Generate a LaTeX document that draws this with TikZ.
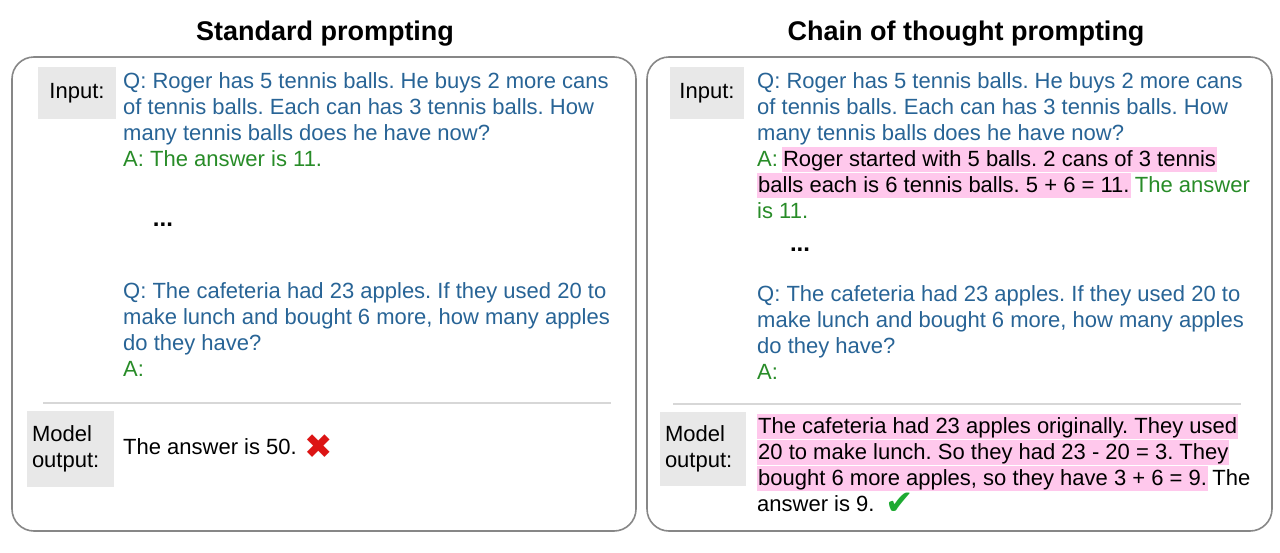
\documentclass[tikz,border=0pt]{standalone}
\usepackage{fontspec}
\setmainfont{Liberation Sans}
\newfontfamily\symfont{DejaVu Sans}
\frenchspacing
\definecolor{qblue}{RGB}{40,100,150}
\definecolor{agreen}{RGB}{40,140,40}
\definecolor{hlpink}{RGB}{255,200,236}
\definecolor{lblgray}{RGB}{232,232,232}
\definecolor{boxgray}{RGB}{135,135,135}
\definecolor{sepgray}{RGB}{215,215,215}
\definecolor{xred}{RGB}{220,20,20}
\definecolor{ckgreen}{RGB}{30,170,50}
\tikzset{
  txt/.style={anchor=base west, inner sep=0pt, font=\fontsize{22}{26}\selectfont},
  qt/.style={txt, text=qblue},
  anst/.style={txt, text=agreen},
  bt/.style={txt, text=black},
  hl/.style={txt, fill=hlpink, text=black, text height=19pt, text depth=6pt, inner xsep=1pt},
  lbl/.style={fill=lblgray, inner sep=0pt, align=left, font=\fontsize{22}{26}\selectfont},
  panel/.style={draw=boxgray, line width=1.6pt, rounded corners=22pt},
  sep/.style={draw=sepgray, line width=1.2pt},
  title/.style={font=\fontsize{27}{30}\selectfont\bfseries, inner sep=0pt},
  dots/.style={font=\fontsize{24}{26}\selectfont\bfseries, inner sep=0pt}
}
\begin{document}
\begin{tikzpicture}[x=1pt,y=-1pt]
\useasboundingbox[fill=white] (0,0) rectangle (1280,552);
% panels
\draw[panel] (12,57) rectangle (636,531);
\draw[panel] (647,57) rectangle (1272,531);
% titles
\node[title] (t1) at (325,34) {Standard prompting};
\node[title] (t2) at (966,34) {Chain of thought prompting};

% ---------- left panel ----------
\node[lbl, minimum width=78pt, minimum height=52pt] (inL) at (77,93) {Input:};
\node[qt] (l1) at (123,88) {Q: Roger has 5 tennis balls. He buys 2 more cans};
\node[qt] (l2) at (123,114) {of tennis balls. Each can has 3 tennis balls. How};
\node[qt] (l3) at (123,140) {many tennis balls does he have now?};
\node[anst] (l4) at (123,166) {A: The answer is 11.};
\node[dots] (ld) at (163,225) {...};
\node[qt] (l5) at (123,298) {Q: The cafeteria had 23 apples. If they used 20 to};
\node[qt] (l6) at (123,324) {make lunch and bought 6 more, how many apples};
\node[qt] (l7) at (123,350) {do they have?};
\node[anst] (l8) at (123,376) {A:};
\draw[sep] (43,403) -- (611,403);
\node[lbl, minimum width=87pt, minimum height=76pt, text width=77pt] (outL) at (70.5,449) {Model\\output:};
\node[bt] (lo) at (123,454) {The answer is 50.};
\node[inner sep=0pt, text=xred, font=\symfont\fontsize{34}{34}\selectfont] (xmark) at (319,447) {✖};

% ---------- right panel ----------
\node[lbl, minimum width=74pt, minimum height=52pt] (inR) at (707,93) {Input:};
\node[qt] (r1) at (757,88) {Q: Roger has 5 tennis balls. He buys 2 more cans};
\node[qt] (r2) at (757,114) {of tennis balls. Each can has 3 tennis balls. How};
\node[qt] (r3) at (757,140) {many tennis balls does he have now?};
\node[anst] (r4a) at (757,166) {A:\,};
\node[hl, anchor=base west] (r4b) at (r4a.base east) {Roger started with 5 balls. 2 cans of 3 tennis};
\node[hl] (r5a) at (757,192) {balls each is 6 tennis balls. 5 + 6 = 11.};
\node[anst, anchor=base west] (r5b) at ([xshift=4pt]r5a.base east) {The answer};
\node[anst] (r6) at (757,218) {is 11.};
\node[dots] (rd) at (800,250) {...};
\node[qt] (r7) at (757,301) {Q: The cafeteria had 23 apples. If they used 20 to};
\node[qt] (r8) at (757,327) {make lunch and bought 6 more, how many apples};
\node[qt] (r9) at (757,353) {do they have?};
\node[anst] (r10) at (757,379) {A:};
\draw[sep] (673,404) -- (1241,404);
\node[lbl, minimum width=86pt, minimum height=74pt, text width=76pt] (outR) at (703,449) {Model\\output:};
\node[hl] (o1) at (757,433) {The cafeteria had 23 apples originally. They used};
\node[hl] (o2) at (757,459) {20 to make lunch. So they had 23 - 20 = 3. They};
\node[hl] (o3a) at (757,485) {bought 6 more apples, so they have 3 + 6 = 9.};
\node[bt, anchor=base west] (o3b) at ([xshift=4pt]o3a.base east) {The};
\node[bt] (o4) at (757,511) {answer is 9.};
\node[inner sep=0pt, text=ckgreen, font=\symfont\fontsize{34}{34}\selectfont] (ck) at (900,504) {✔};
\end{tikzpicture}
\end{document}
